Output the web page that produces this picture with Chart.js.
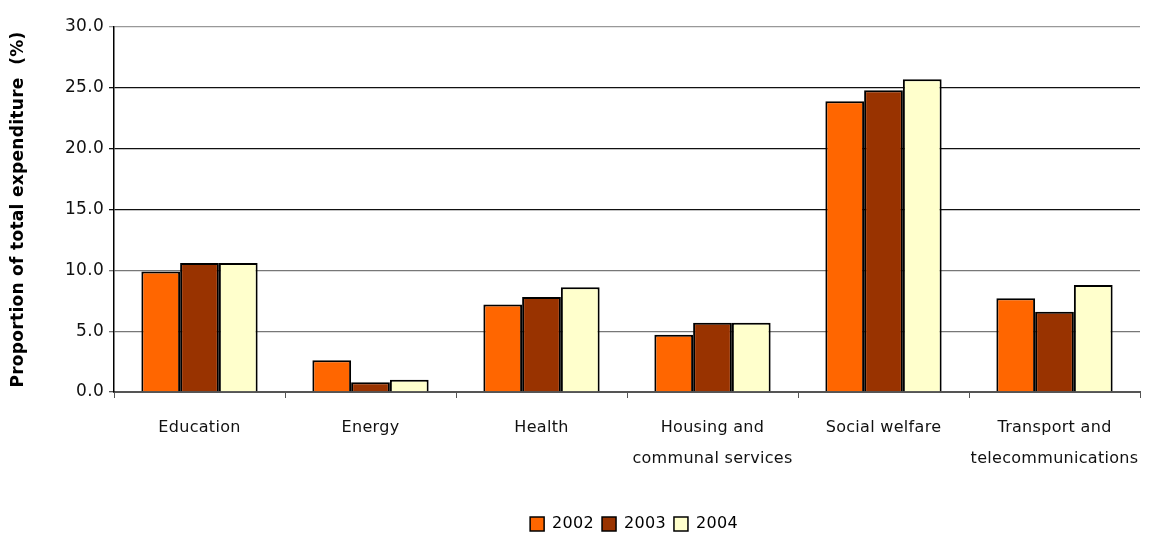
<!DOCTYPE html>
<html>
<head>
<meta charset="utf-8">
<script src="https://cdn.jsdelivr.net/npm/chart.js@4/dist/chart.umd.min.js"></script>
<style>
  html, body { margin:0; padding:0; background:#fff; }
  #wrap { width:1152px; height:534px; }
</style>
</head>
<body>
<div id="wrap"><canvas id="chart" width="1152" height="534"></canvas></div>
<script>
// ---- data ----
const categories = [
  "Education",
  "Energy",
  "Health",
  ["Housing and", "communal services"],
  "Social welfare",
  ["Transport and", "telecommunications"]
];
const years = ["2002", "2003", "2004"];
const values2002 = [9.9, 2.6, 7.2, 4.7, 23.9, 7.7];
const values2003 = [10.6, 0.8, 7.8, 5.7, 24.8, 6.6];
const values2004 = [10.6, 1.0, 8.6, 5.7, 25.7, 8.8];
const yTicks = [0, 5, 10, 15, 20, 25, 30];

const colors = ["#FF6600", "#993300", "#FFFFCC"];
const FONT = "'DejaVu Sans', Verdana, sans-serif";

// gridline shades like the original export
function gridColor(ctx){
  const v = ctx.tick ? ctx.tick.value : 0;
  if (v === 0) return "#555";
  if (v === 30) return "#999";
  if (v >= 15) return "#111";
  return "#777";
}

// slightly spaced text, and legend sitting right of centre like the original
const tweaks = {
  id: "tweaks",
  beforeUpdate(chart){ chart.ctx.letterSpacing = "0.3px"; },
  beforeDraw(chart){ chart.ctx.letterSpacing = "0.3px"; },
  afterLayout(chart){
    chart.legend.left += 60;
    chart.legend.right += 60;
  }
};

const ctx = document.getElementById("chart");
new Chart(ctx, {
  type: "bar",
  data: {
    labels: categories,
    datasets: [values2002, values2003, values2004].map((d, i) => ({
      label: years[i],
      data: d,
      backgroundColor: colors[i],
      borderColor: "#000",
      borderWidth: 2,
      barPercentage: 1.0,
      categoryPercentage: 0.68
    }))
  },
  plugins: [tweaks],
  options: {
    responsive: false,
    animation: false,
    layout: { padding: { top: 27, right: 12, left: 8, bottom: -8 } },
    plugins: {
      tooltip: { enabled: false },
      legend: {
        position: "bottom",
        labels: {
          color: "#000",
          font: { family: FONT, size: 16 },
          boxWidth: 14,
          boxHeight: 14,
          padding: 8,
          generateLabels(chart){
            return chart.data.datasets.map((ds, i) => ({
              text: ds.label,
              fillStyle: ds.backgroundColor,
              strokeStyle: "#000",
              lineWidth: 1.5,
              datasetIndex: i
            }));
          }
        }
      }
    },
    scales: {
      x: {
        offset: true,
        grid: {
          offset: true,
          drawOnChartArea: false,
          drawTicks: true,
          tickLength: 6,
          color: "#555"
        },
        border: { color: "#555", width: 2 },
        ticks: {
          color: "#111",
          font: { family: FONT, size: 16, lineHeight: 1.9 },
          padding: 15,
          maxRotation: 0,
          autoSkip: false
        },
        afterFit(scale){
          scale.height = 116;
          // let the last label run past the plot edge, as in the original
          scale.paddingRight = 0;
        }
      },
      y: {
        min: 0,
        max: 30,
        afterBuildTicks(scale){ scale.ticks = yTicks.map(v => ({ value: v })); },
        grid: {
          color: gridColor,
          lineWidth: 1.3,
          tickLength: 5,
          drawTicks: true
        },
        border: { color: "#000", width: 1.5 },
        ticks: {
          color: "#111",
          font: { family: FONT, size: 17 },
          padding: 5,
          callback: v => v.toFixed(1)
        },
        title: {
          display: true,
          text: "Proportion of total expenditure  (%)",
          color: "#000",
          font: { family: FONT, size: 17, weight: "bold" },
          padding: { top: 0, bottom: 6 }
        },
        afterFit(scale){ scale.width = 106; }
      }
    }
  }
});
</script>
</body>
</html>
